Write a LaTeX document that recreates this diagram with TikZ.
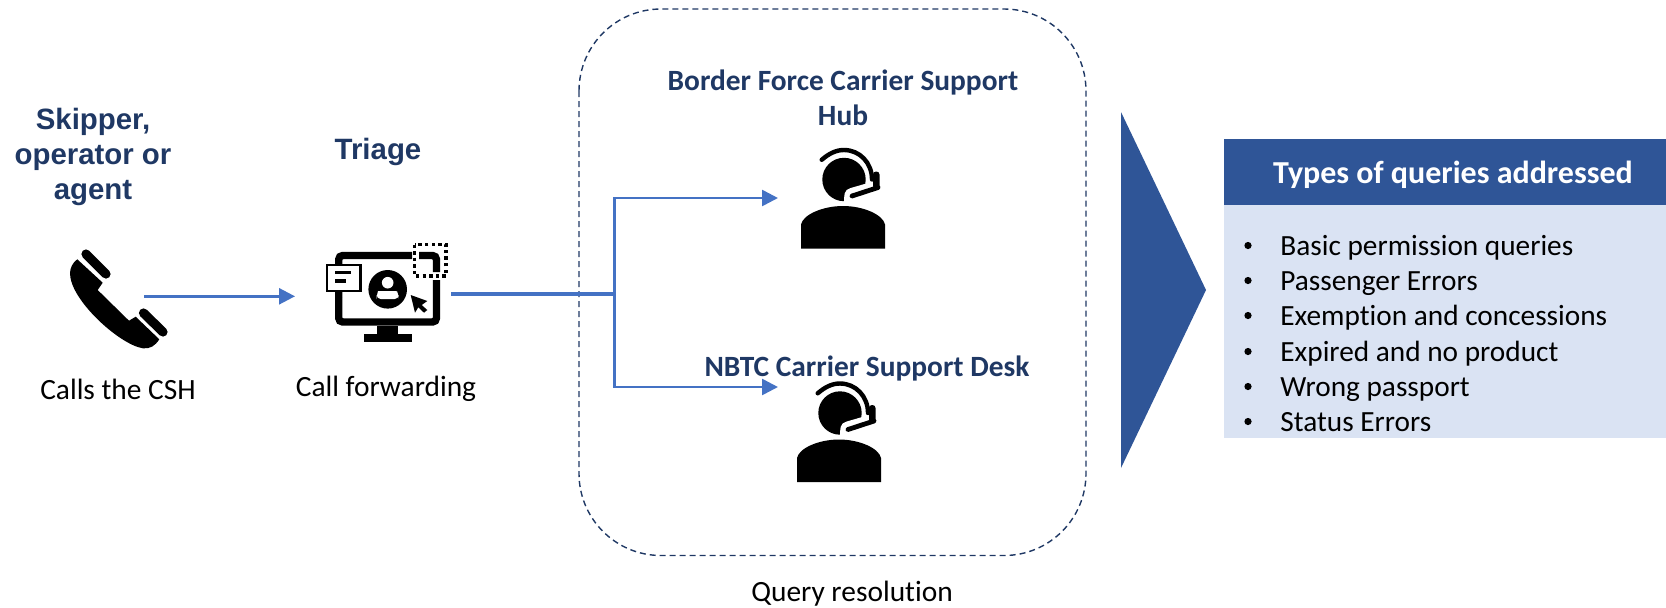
\documentclass[tikz,border=0pt]{standalone}
\usepackage{fontspec}
\setmainfont[Ligatures=NoCommon]{Carlito}
\newfontfamily\arialf{Liberation Sans}
\usetikzlibrary{arrows.meta}
\definecolor{navy}{HTML}{1F3864}
\definecolor{wireblue}{HTML}{4472C4}
\definecolor{deepblue}{HTML}{2F5597}
\definecolor{paleblue}{HTML}{DAE3F3}
\tikzset{
  labeltext/.style={anchor=base,inner sep=0pt,text=black,font=\fontsize{14.7}{16}\selectfont},
  listtext/.style={anchor=base west,inner sep=0pt,text=black,font=\fontsize{14.65}{16}\selectfont},
  bulletmark/.style={circle,fill=black,inner sep=0pt,minimum size=3.6pt},
  headtext/.style={anchor=base,inner sep=0pt,text=navy,font=\fontsize{14.7}{16}\selectfont\bfseries},
  armtext/.style={anchor=base,inner sep=0pt,text=navy,font=\arialf\fontsize{14.7}{16}\selectfont\bfseries},
  wire/.style={draw=wireblue,line width=1.3pt},
  wirearrow/.style={wire,-{Triangle[length=8pt,width=8pt]}},
  thickwire/.style={draw=wireblue,line width=2.1pt},
  agentpic/.pic={
    \fill[black] (1,-19) circle (21.7);
    \fill[white] (3,-7) -- (27,-14) -- (27,8) -- (3,8) -- cycle;
    \draw[white,line width=2pt] (27,-14) -- (8,-8.5) .. controls (3,-7) and (3,-4) .. (3,6);
    \draw[black,line width=2.2pt,line cap=round] (-21.3,-38.7) .. controls (-14,-45) and (-7,-48.5) .. (1,-48.5) .. controls (16.7,-48.5) and (29,-35.7) .. (29,-19);
    \fill[black,rounded corners=1.5pt] (30,-27) rectangle (36.5,-9.5);
    \draw[black,line width=2.4pt,line cap=round] (35,-11) -- (9,-2.5);
    \fill[black] (-42,50) -- (-42,26) .. controls (-40,16) and (-20,7.5) .. (0,7.5) .. controls (20,7.5) and (40,16) .. (42,26) -- (42,50) -- cycle;
  }
}
\begin{document}
\begin{tikzpicture}[x=0.5pt,y=-0.5pt]
\useasboundingbox (0,0) rectangle (1666,607);

% query resolution frame
\draw[navy,line width=0.7pt,dash pattern=on 3pt off 2pt,rounded corners=41pt] (579,9) rectangle (1086,555.5);

% phone
\fill[black] (77.3,259.3) -- (102.7,282.7) -- (97.7,290) -- (129,320.7) -- (135.7,316.7) -- (159.3,339.3)
  .. controls (155,346) and (150,349) .. (143,348.3)
  .. controls (120,345) and (70,300) .. (70,273.3)
  .. controls (70,268) and (73,262) .. (77.3,259.3) -- cycle;
\draw[black,line width=4.6pt,line cap=round] (86,254) -- (106,274);
\draw[black,line width=4.6pt,line cap=round] (143.5,313) -- (163,332);

% monitor
\draw[black,line width=3.7pt,rounded corners=2pt] (338.7,297) |- (412,255.5);
\draw[black,line width=3.7pt,rounded corners=2pt] (419,255.5) -| (436.5,272);
\draw[black,line width=3.7pt,rounded corners=2pt] (436.5,280) |- (338.7,322) -- (338.7,297);
\fill[black] (377.3,326) rectangle (398.3,334);
\fill[black] (364,334) rectangle (411.7,341.7);
\draw[black,line width=1.3pt,fill=white] (327,265) rectangle (360.5,291);
\fill[black] (335,271) rectangle (351,274.3);
\fill[black] (335,279.3) rectangle (346,282.7);
\fill[black] (387.7,289.3) circle (19.3);
\fill[white] (387.7,282.7) circle (5.8);
\fill[white,rounded corners=2pt] (376.7,299) -- (376.7,295) .. controls (378,291) and (397,291) .. (398.7,295) -- (398.7,299) -- cycle;
\fill[black] (410.7,295) -- (427.3,301) -- (421.7,305) -- (427.3,310) -- (424,312.7) -- (418.3,307.3) -- (415,312.7) -- cycle;
\draw[black,line width=1.7pt,dash pattern=on 1.7pt off 1.6pt] (414.5,244.5) rectangle (446,276);

% agents
\pic at (843,198.5) {agentpic};
\pic at (839,432) {agentpic};

% connectors
\coordinate (phoneout) at (144,296.3);
\coordinate (triagein) at (295,296.3);
\coordinate (triageout) at (451,294);
\coordinate (fork) at (614.5,294);
\coordinate (forktop) at (614.5,198);
\coordinate (forkbot) at (614.5,387);
\coordinate (hubin) at (778,198);
\coordinate (deskin) at (778,387);
\draw[wirearrow] (phoneout) -- (triagein);
\draw[thickwire] (triageout) -- (fork);
\draw[wirearrow] (fork) -- (forktop) -- (hubin);
\draw[wirearrow] (fork) -- (forkbot) -- (deskin);

% arrow and panel
\fill[deepblue] (1121,112) -- (1206,290) -- (1121,468) -- cycle;
\fill[paleblue] (1224,205) rectangle (1666,437.7);
\fill[deepblue] (1224,139) rectangle (1666,205);

% texts
\node[armtext] (t1) at (93,129) {Skipper,};
\node[armtext] (t2) at (93,164.5) {operator or};
\node[armtext] (t3) at (93,199.5) {agent};
\node[armtext] (t4) at (378,159) {Triage};
\node[labeltext] (l1) at (118,399) {Calls the CSH};
\node[labeltext] (l2) at (386,396.5) {Call forwarding};
\node[headtext] (h1) at (843,90) {Border Force Carrier Support};
\node[headtext] (h2) at (843,125.5) {Hub};
\node[headtext] (h3) at (867,376.5) {NBTC Carrier Support Desk};
\node[labeltext] (q) at (852,601.5) {Query resolution};
\node[anchor=base,inner sep=0pt,text=white,font=\fontsize{16}{18}\selectfont\bfseries] (p0) at (1453,183) {Types of queries addressed};
\foreach \nm/\yy/\tx in {a/255.5/Basic permission queries,b/290.5/Passenger Errors,c/325.5/Exemption and concessions,d/361.5/Expired and no product,e/396.5/Wrong passport,f/431.5/Status Errors}{
  \node[bulletmark] (m\nm) at (1248,\yy-10) {};
  \node[listtext] (i\nm) at (1280,\yy) {\tx};
}
\end{tikzpicture}
\end{document}
